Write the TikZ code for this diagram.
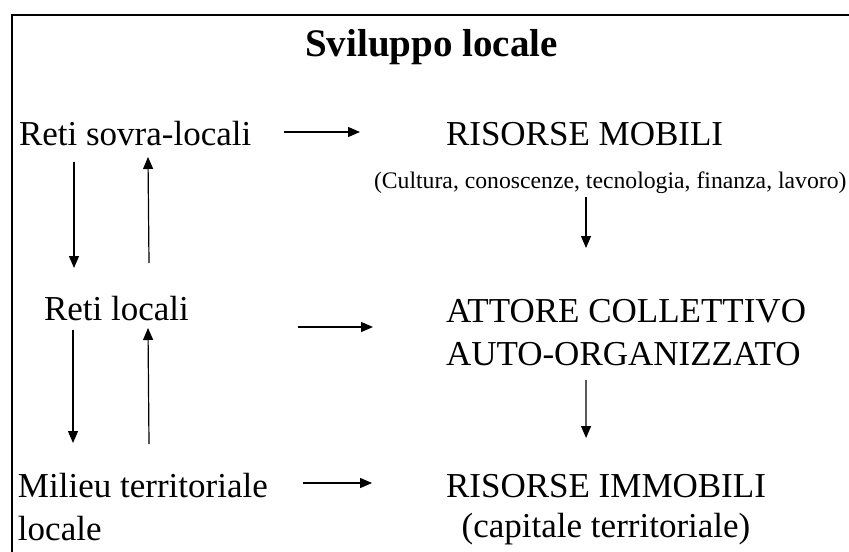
\documentclass[tikz,border=0pt]{standalone}
\usepackage{fontspec}
\setmainfont{Liberation Serif}
\usetikzlibrary{arrows.meta}

\begin{document}
\begin{tikzpicture}[x=0.5pt, y=-0.5pt,
    txt/.style={inner sep=0pt, outer sep=0pt, anchor=base west, align=left,
        font=\fontsize{17.5}{21.5}\selectfont},
    arr/.style={line width=0.6pt, -{Triangle[length=6pt, width=5pt]}}]
        \useasboundingbox (0,0) rectangle (849,551);
        \draw[line width=1pt] (860,15) -- (11.5,15) -- (11.5,560);
        \node[inner sep=0pt, anchor=base, font=\fontsize{19.5}{23}\selectfont\bfseries]
        (title) at (431.5,57) {Sviluppo locale};
        \node[txt] (sovra) at (19,145) {Reti sovra-locali};
        \node[txt] (mobili) at (446,145) {RISORSE MOBILI};
        \node[txt, font=\fontsize{11.85}{14}\selectfont] (cultura) at (374,188)
        {(Cultura, conoscenze, tecnologia, finanza, lavoro)};
        \node[txt] (locali) at (44,320) {Reti locali};
        \node[txt] (attore) at (446,365) {ATTORE COLLETTIVO\\AUTO-ORGANIZZATO};
        \node[txt] (milieu) at (18,540) {Milieu territoriale\\locale};
        \node[txt, anchor=base, align=center, font=\fontsize{17.5}{20}\selectfont]
        (immobili) at (606,537) {RISORSE IMMOBILI\\(capitale territoriale)};
        \draw[arr] ([shift={(33,-13)}]sovra.base east) -- ([shift={(-86,-13)}]mobili.base west);
        \draw[arr] ([shift={(109,7)}]locali.base east) -- ([shift={(-73,-38)}]attore.base west);
        \draw[arr] ([shift={(285,-57)}]milieu.base west) -- ([shift={(-74,-54)}]immobili.base west);
        \draw[arr] ([shift={(55,17)}]sovra.base west) -- ([shift={(30,-52)}]locali.base west);
        \draw[arr] ([shift={(105,-57)}]locali.base west) -- ([shift={(129,12)}]sovra.base west);
        \draw[arr] ([shift={(29,10)}]locali.base west) -- ([shift={(55,-97)}]milieu.base west);
        \draw[arr] ([shift={(131,-96)}]milieu.base west) -- ([shift={(104,8)}]locali.base west);
        \draw[arr] ([shift={(212,9)}]cultura.base west) -- ([shift={(140,-117)}]attore.base west);
        \draw[arr] ([shift={(140,15)}]attore.base west) -- ([shift={(140,-99)}]immobili.base west);
    \end{tikzpicture}
\end{document}
